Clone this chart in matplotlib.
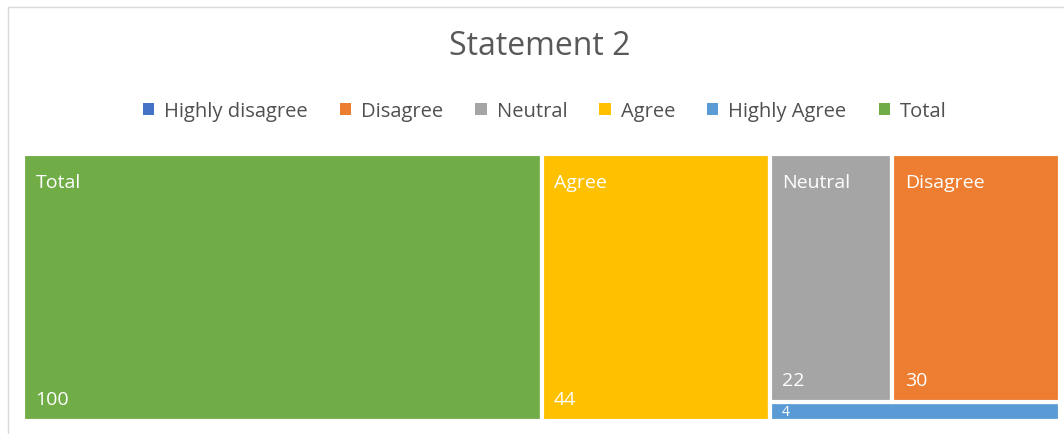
import matplotlib.pyplot as plt
from matplotlib.patches import Rectangle, Patch

plt.rcParams['font.family'] = ['Open Sans', 'DejaVu Sans']

categories = ['Highly disagree', 'Disagree', 'Neutral', 'Agree', 'Highly Agree', 'Total']
values = [0, 30, 22, 44, 4, 100]
colors = ['#4472C4', '#ED7D31', '#A5A5A5', '#FFC000', '#5B9BD5', '#70AD47']

val = dict(zip(categories, values))
col = dict(zip(categories, colors))

fig = plt.figure(figsize=(10.64, 4.35), dpi=100)
# chart frame
fig.patches.append(Rectangle((8 / 1064, -0.1), 1.2, (435 - 8) / 435 + 0.1,
                             transform=fig.transFigure, fill=False,
                             edgecolor='#d9d9d9', linewidth=1))
ax = fig.add_axes([23 / 1064, 13 / 435, 1037 / 1064, 267 / 435])
ax.set_xlim(0, 1)
ax.set_ylim(0, 1)
ax.axis('off')

grand = sum(values)
rects = {}
# columns: Total, Agree, then the rest stacked
x = 0
for name in ['Total', 'Agree']:
    w = val[name] / grand
    rects[name] = (x, 0, w, 1)
    x += w
rest = ['Neutral', 'Disagree', 'Highly Agree']
w_rest = 1 - x
rest_sum = sum(val[n] for n in rest)
top_sum = val['Neutral'] + val['Disagree']
h_bot = val['Highly Agree'] / rest_sum
rects['Highly Agree'] = (x, 0, w_rest, h_bot)
xx = x
for name in ['Neutral', 'Disagree']:
    w = w_rest * val[name] / top_sum
    rects[name] = (xx, h_bot, w, 1 - h_bot)
    xx += w

for name, (rx, ry, rw, rh) in rects.items():
    ax.add_patch(Rectangle((rx, ry), rw, rh, facecolor=col[name],
                           edgecolor='white', linewidth=3))
    if rh > 0.3:
        ax.annotate(name, (rx, ry + rh), xytext=(9, -14),
                    textcoords='offset points', color='white', fontsize=14,
                    ha='left', va='top')
        ax.annotate(str(val[name]), (rx, ry), xytext=(9, 9),
                    textcoords='offset points', color='white', fontsize=14,
                    ha='left', va='bottom')
    else:
        ax.annotate(str(val[name]), (rx, ry + rh / 2), xytext=(9, 0),
                    textcoords='offset points', color='white', fontsize=10,
                    ha='left', va='center')

fig.text(0.507, 0.893, 'Statement 2', ha='center', va='center',
         fontsize=23, color='#595959')

handles = [Patch(facecolor=c, edgecolor='none') for c in colors]
fig.legend(handles, categories, loc='center', bbox_to_anchor=(0.512, 0.742),
           ncol=6, frameon=False, fontsize=14.5, handlelength=0.55,
           handleheight=0.55, handletextpad=0.5, columnspacing=1.6,
           labelcolor='#505050')

fig.savefig('out.png', dpi=100, facecolor='white')
